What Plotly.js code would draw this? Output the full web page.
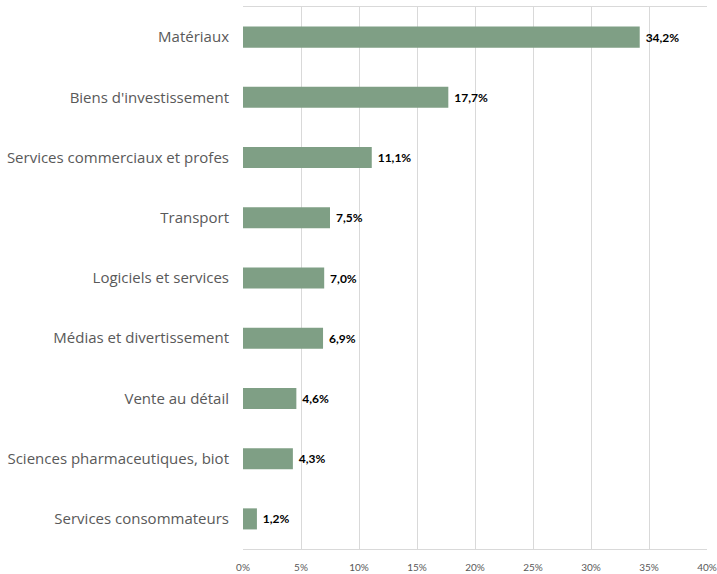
<!DOCTYPE html>
<html><head><meta charset="utf-8">
<script src="https://cdn.plot.ly/plotly-3.0.1.min.js"></script>
<style>html,body{margin:0;padding:0;background:#fff}#chart{width:717px;height:574px}</style>
</head><body><div id="chart"></div>
<script>
const categories = ["Matériaux","Biens d'investissement","Services commerciaux et profes","Transport","Logiciels et services","Médias et divertissement","Vente au détail","Sciences pharmaceutiques, biot","Services consommateurs"];
const values = [34.2, 17.7, 11.1, 7.5, 7.0, 6.9, 4.6, 4.3, 1.2];
const tickVals = [0,5,10,15,20,25,30,35,40];
const tickText = ["0%","5%","10%","15%","20%","25%","30%","35%","40%"];

Plotly.newPlot('chart', [{
  type:'bar', orientation:'h', y:categories, x:values,
  marker:{color:'#7f9f85'}, width:0.35,
  text: values.map(v => ' ' + v.toFixed(1).replace('.', ',') + '%'),
  textposition:'outside', cliponaxis:false,
  textfont:{family:'Lato, sans-serif', size:12, color:'#000', weight:'bold'},
  hoverinfo:'none'
}], {
  width:717, height:574,
  margin:{l:243, r:10, t:7, b:25},
  paper_bgcolor:'#fff', plot_bgcolor:'#fff',
  showlegend:false,
  xaxis:{range:[0,40], tickvals:tickVals, ticktext:tickText, showgrid:true, gridcolor:'#d9d9d9', gridwidth:1,
    zeroline:false, showline:true, linecolor:'#d9d9d9', mirror:true,
    ticklabelstandoff:9,
    tickfont:{family:'Lato, sans-serif', size:10, color:'#595959'}, ticks:'', fixedrange:true},
  yaxis:{autorange:'reversed', showgrid:false, zeroline:false, showline:false, ticks:'',
    ticklabelstandoff:13,
    tickfont:{family:'Open Sans, sans-serif', size:15, color:'#595959'}, fixedrange:true},
  bargap:0.65
}, {staticPlot:true});
</script></body></html>
